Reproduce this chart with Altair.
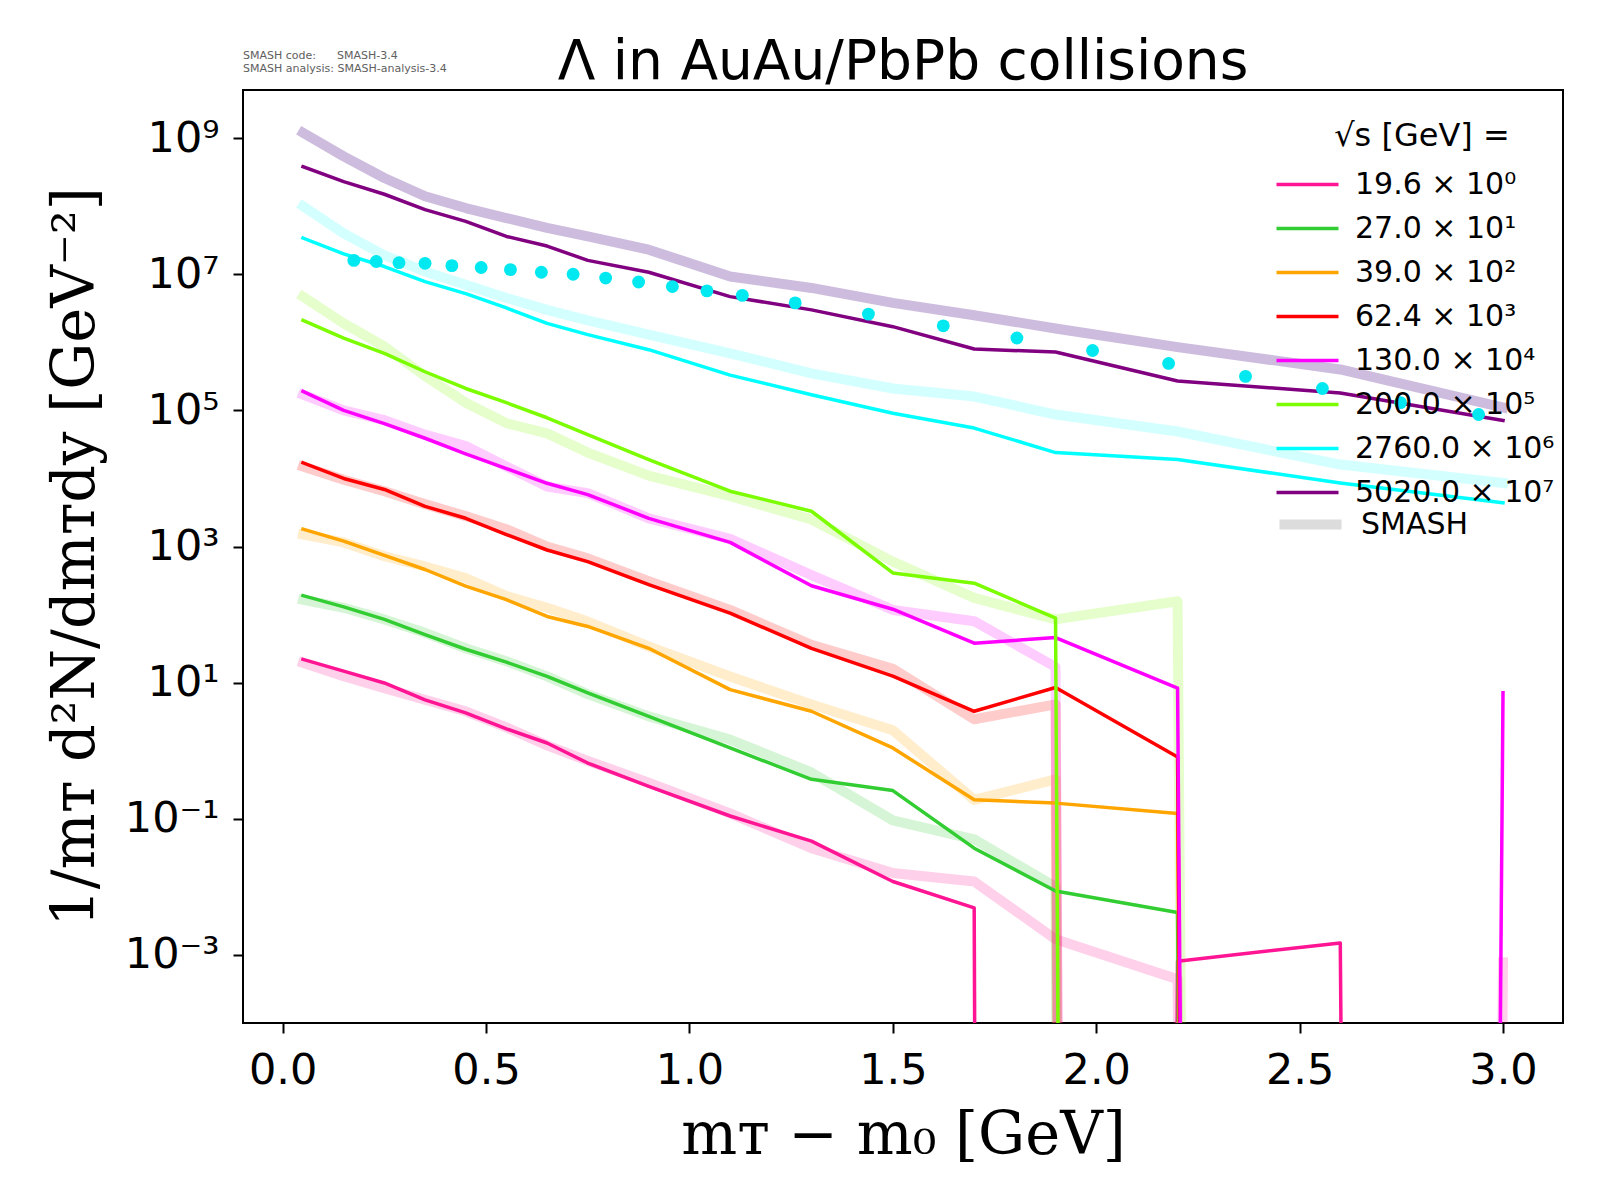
import altair as alt
import pandas as pd

# m_T - m_0 bins [GeV]
mt = [0.05, 0.15, 0.25, 0.35, 0.45, 0.55, 0.65, 0.75, 0.9, 1.1, 1.3, 1.5, 1.7, 1.9, 2.2, 2.6, 3.0]

labels = ["19.6 × 10⁰", "27.0 × 10¹", "39.0 × 10²", "62.4 × 10³",
          "130.0 × 10⁴", "200.0 × 10⁵", "2760.0 × 10⁶", "5020.0 × 10⁷"]
colors = ["#ff1493", "#32cd32", "#ffa500", "#ff0000",
          "#ff00ff", "#7cfc00", "#00ffff", "#800080"]
smash_colors = ["rgba(255,20,147,0.2)", "rgba(50,205,50,0.2)", "rgba(255,165,0,0.2)", "rgba(255,0,0,0.2)",
                "rgba(255,0,255,0.2)", "rgba(124,252,0,0.2)", "rgba(0,255,255,0.17)", "rgba(102,51,153,0.33)"]

# scaled spectra (0 = empty bin)
data_196 = [22, 14.8, 9.9, 5.6, 3.6, 2.1, 1.3, 0.66, 0.30, 0.11, 0.047, 0.012, 4.9e-3, 0, 8.1e-4, 1.5e-3, 0]
data_270 = [190, 130, 85, 51, 31, 20, 12.4, 7.1, 3.2, 1.1, 0.38, 0.26, 0.037, 8.7e-3, 4.2e-3, 0, 0]
data_390 = [1.8e3, 1.2e3, 740, 460, 262, 166, 94, 67, 32, 7.9, 3.8, 1.1, 0.19, 0.17, 0.12, 0, 0]
data_624 = [1.7e4, 1.0e4, 6.9e3, 3.9e3, 2.6e3, 1.5e3, 890, 600, 276, 105, 32, 12.5, 3.8, 8.5, 0.81, 0, 0]
data_1300 = [1.9e5, 1.0e5, 6.4e4, 3.9e4, 2.3e4, 1.4e4, 8.5e3, 5.8e3, 2.6e3, 1.15e3, 265, 120, 38, 46, 8.3, 0, 7.1]
data_2000 = [2.1e6, 1.15e6, 6.9e5, 3.7e5, 2.1e5, 1.3e5, 7.8e4, 4.4e4, 1.9e4, 6.5e3, 3.3e3, 410, 290, 89, 0, 0, 0]
data_27600 = [3.4e7, 2.0e7, 1.3e7, 7.8e6, 5.2e6, 3.2e6, 1.9e6, 1.3e6, 7.8e5, 3.3e5, 1.7e5, 9.1e4, 5.5e4, 2.4e4, 1.9e4, 8.6e3, 4.4e3]
data_50200 = [3.8e8, 2.3e8, 1.5e8, 8.9e7, 6.0e7, 3.6e7, 2.6e7, 1.6e7, 1.07e7, 4.7e6, 3.0e6, 1.7e6, 8.0e5, 7.2e5, 2.7e5, 1.8e5, 7.1e4]

smash_196 = [19.5, 12.4, 8.3, 5.6, 3.8, 2.2, 1.2, 0.71, 0.34, 0.12, 0.037, 0.016, 0.012, 1.7e-3, 4.4e-4, 0, 7.8e-4]
smash_270 = [165, 126, 85, 54, 32, 20.6, 12.4, 6.8, 3.2, 1.46, 0.48, 0.095, 0.05, 0.01, 0, 0, 0]
smash_390 = [1.5e3, 1.15e3, 720, 510, 345, 187, 126, 79, 34, 12.3, 4.8, 2.0, 0.19, 0.38, 0, 0, 0]
smash_624 = [1.5e4, 9.6e3, 6.5e3, 4.2e3, 2.8e3, 1.8e3, 1.0e3, 670, 310, 117, 36, 16, 2.9, 4.8, 0, 0, 0]
smash_1300 = [1.7e5, 1.0e5, 7.2e4, 4.4e4, 3.0e4, 1.5e4, 7.6e3, 6.1e3, 2.6e3, 1.3e3, 380, 117, 80, 17, 0, 0, 0]
smash_2000 = [4.7e6, 1.9e6, 8.7e5, 3.2e5, 1.3e5, 6.5e4, 4.6e4, 2.4e4, 1.1e4, 5.5e3, 2.5e3, 600, 176, 85, 157, 0, 0]
smash_27600 = [1.0e8, 4.0e7, 1.9e7, 1.1e7, 7.0e6, 4.5e6, 3.0e6, 2.1e6, 1.3e6, 6.9e5, 3.5e5, 2.1e5, 1.6e5, 8.7e4, 4.9e4, 1.6e4, 8.6e3]
smash_50200 = [1.2e9, 5.4e8, 2.6e8, 1.4e8, 9.4e7, 6.7e7, 4.8e7, 3.6e7, 2.3e7, 9.3e6, 6.3e6, 3.8e6, 2.5e6, 1.6e6, 8.5e5, 4.0e5, 1.1e5]

data_series = [data_196, data_270, data_390, data_624, data_1300, data_2000, data_27600, data_50200]
smash_series = [smash_196, smash_270, smash_390, smash_624, smash_1300, smash_2000, smash_27600, smash_50200]

# measured points
exp_mt = [0.175, 0.23, 0.286, 0.35, 0.416, 0.488, 0.56, 0.636, 0.714, 0.794, 0.875, 0.958,
          1.043, 1.13, 1.26, 1.44, 1.624, 1.805, 1.991, 2.178, 2.367, 2.556, 2.748, 2.94]
exp_y = [1.6e7, 1.54e7, 1.48e7, 1.45e7, 1.34e7, 1.26e7, 1.17e7, 1.07e7, 1.0e7, 8.8e6, 7.7e6, 6.6e6,
         5.7e6, 4.9e6, 3.8e6, 2.6e6, 1.75e6, 1.16e6, 7.6e5, 4.9e5, 3.16e5, 2.1e5, 1.3e5, 8.7e4]

x_ticks = [0.0, 0.5, 1.0, 1.5, 2.0, 2.5, 3.0]
y_exps = [9, 7, 5, 3, 1, -1, -3]

title_text = "Λ in AuAu/PbPb collisions"
annot_text = "SMASH code:\u00a0\u00a0\u00a0\u00a0\u00a0\u00a0SMASH-3.4\nSMASH analysis: SMASH-analysis-3.4"
x_title = "mᴛ − m₀ [GeV]"
y_title = "1/mᴛ d²N/dmᴛdy [GeV⁻²]"
legend_title = "√s  [GeV] ="

# log axis clips non-positive values, like matplotlib
FLOOR = 1e-300

SUP = {"0": "⁰", "1": "¹", "2": "²", "3": "³", "4": "⁴", "5": "⁵",
       "6": "⁶", "7": "⁷", "8": "⁸", "9": "⁹", "-": "⁻"}


def sup(n):
    return "".join(SUP[c] for c in str(n))


y_label_expr = " : ".join(
    f"abs(log(datum.value)/LN10 - ({e})) < 0.01 ? '10{sup(e)}'" for e in y_exps) + " : ''"

x_enc = alt.X("mt:Q",
              scale=alt.Scale(domain=[-0.0975, 3.1475], nice=False, zero=False),
              axis=alt.Axis(values=x_ticks, format=".1f", title=x_title,
                            titleX=660, titleY=130, titleBaseline="alphabetic", titleAlign="center",
                            labelPadding=16))
y_enc = alt.Y("y:Q",
              scale=alt.Scale(type="log", domain=[1e-4, 5.1e9], nice=False),
              axis=alt.Axis(values=[10.0 ** e for e in y_exps], labelExpr=y_label_expr, title=y_title,
                            titleX=-150, titleY=466.5, titleAngle=270, titleBaseline="alphabetic",
                            titleAlign="center", labelPadding=14))

color_scale = alt.Scale(domain=labels, range=colors)
color_legend = alt.Legend(title=legend_title, orient="none", legendX=1047, legendY=31,
                          symbolType="M-2,0H2", symbolSize=961, symbolStrokeWidth=3.5,
                          labelFontSize=30, titleFontSize=32, titleFontWeight="normal",
                          titleAnchor="middle", labelOffset=30, rowPadding=11, padding=0,
                          titlePadding=14, labelLimit=0, titleLimit=0,
                          labelFont="DejaVu Sans", titleFont="DejaVu Sans",
                          labelColor="black", titleColor="black")
smash_legend = alt.Legend(title=None, orient="none", legendX=1047, legendY=414,
                          symbolType="M-2,0H2", symbolSize=961, symbolStrokeColor="#dcdcdc",
                          labelFontSize=30, labelOffset=30, padding=0, labelLimit=0,
                          labelFont="DejaVu Sans", labelColor="black")

layers = []
for lab, col, ys in zip(labels, smash_colors, smash_series):
    df = pd.DataFrame({"mt": mt, "y": [v if v > 0 else FLOOR for v in ys], "tag": "SMASH"})
    layers.append(
        alt.Chart(df).mark_line(color=col, clip=True, strokeCap="square", strokeJoin="round").encode(
            x=x_enc, y=y_enc,
            strokeWidth=alt.StrokeWidth("tag:O", scale=alt.Scale(domain=["SMASH"], range=[10, 10]),
                                        legend=smash_legend)))

for lab, ys in zip(labels, data_series):
    df = pd.DataFrame({"mt": mt, "y": [v if v > 0 else FLOOR for v in ys], "label": lab})
    layers.append(
        alt.Chart(df).mark_line(strokeWidth=3.5, clip=True, strokeCap="square", strokeJoin="round").encode(
            x=x_enc, y=y_enc,
            color=alt.Color("label:N", scale=color_scale, legend=color_legend)))

dots = alt.Chart(pd.DataFrame({"mt": exp_mt, "y": exp_y})).mark_circle(
    size=165, opacity=1, color="#00e8f0").encode(x=x_enc, y=y_enc)
layers.append(dots)

annot = alt.Chart(pd.DataFrame({"t": [annot_text]})).mark_text(
    align="left", baseline="alphabetic", font="DejaVu Sans", fontSize=11, color="#606060",
    lineBreak="\n", lineHeight=12.5).encode(text="t:N", x=alt.value(0), y=alt.value(-31))
layers.append(annot)

title = alt.Chart(pd.DataFrame({"t": [title_text]})).mark_text(
    align="center", baseline="alphabetic", font="DejaVu Sans", fontSize=55, color="black"
).encode(text="t:N", x=alt.value(660), y=alt.value(-11))
layers.append(title)

chart = alt.layer(*layers).properties(
    width=1320, height=933,
    padding={"left": 235, "top": 82, "right": 29, "bottom": 169},
    autosize=alt.AutoSizeParams(type="none"),
).configure_view(
    stroke="black", strokeWidth=2
).configure_axis(
    domain=False, grid=False, ticks=True, tickColor="black", tickWidth=2, tickSize=10,
    labelFont="DejaVu Sans", labelFontSize=43, labelColor="black",
    titleFont="DejaVu Serif", titleFontSize=59, titleFontWeight="normal", titleColor="black"
)

chart.save("out.html", embed_options={"renderer": "svg", "actions": False})
